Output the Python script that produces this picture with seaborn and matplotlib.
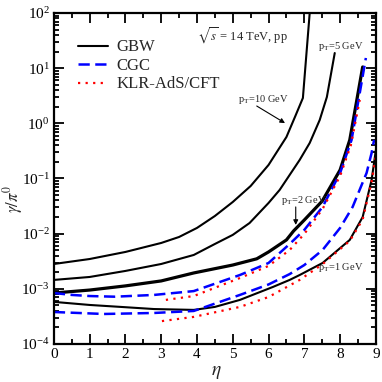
import matplotlib
matplotlib.use("Agg")
import matplotlib.pyplot as plt
import seaborn as sns
from matplotlib.ticker import MultipleLocator, LogLocator, NullFormatter

# GBW curves (solid black)
gbw_pt1_eta = [0, 1, 1.87, 2.8, 3.91, 4.5, 5.2, 6.12, 6.59, 6.87, 7.51, 8.27, 8.63, 8.88, 9.0]
gbw_pt1_val = [5.8e-4, 5.1e-4, 4.7e-4, 4.3e-4, 4.15e-4, 4.7e-4, 6.3e-4, 1.08e-3,
               1.45e-3, 1.78e-3, 2.94e-3, 7.7e-3, 2.0e-2, 9.4e-2, 0.33]
gbw_pt2_eta = [0, 1, 2, 3, 3.91, 5, 5.67, 6, 6.5, 6.7, 7, 7.5, 8, 8.27, 8.63]
gbw_pt2_val = [8.4e-4, 9.5e-4, 1.13e-3, 1.39e-3, 1.94e-3, 2.7e-3, 3.5e-3, 4.66e-3,
               7.7e-3, 1.12e-2, 1.77e-2, 3.9e-2, 0.143, 0.5, 10.5]
gbw_pt5_eta = [0, 1, 2, 3, 3.91, 4.5, 5, 5.47, 6, 6.31, 6.87, 7.15, 7.43, 7.63, 7.85]
gbw_pt5_val = [1.45e-3, 1.64e-3, 2.11e-3, 2.82e-3, 4.11e-3, 6.5e-3, 9.5e-3, 1.56e-2,
               3.6e-2, 6.2e-2, 0.217, 0.44, 1.15, 3.0, 18.8]
gbw_pt10_eta = [0, 1, 2, 3, 3.5, 4, 4.5, 5, 5.5, 6, 6.5, 6.75, 6.96, 7.15]
gbw_pt10_val = [2.82e-3, 3.47e-3, 4.66e-3, 6.78e-3, 8.71e-3, 1.27e-2, 2.09e-2,
                3.75e-2, 7.31e-2, 0.176, 0.565, 1.36, 2.88, 100.0]

# CGC curves (dashed blue)
cgc_pt1_eta = [0, 1.4, 2.8, 3.91, 5.2, 6, 6.59, 7, 7.51, 8, 8.35, 8.74, 8.88, 8.95]
cgc_pt1_val = [3.8e-4, 3.5e-4, 3.65e-4, 3.97e-4, 7.75e-4, 1.2e-3, 1.85e-3, 2.7e-3,
               5.06e-3, 1.27e-2, 3.05e-2, 0.126, 0.29, 0.5]
cgc_pt2_eta = [0, 0.5, 1, 1.7, 2.8, 3.91, 5.2, 6, 6.59, 7, 7.51, 8, 8.32, 8.72]
cgc_pt2_val = [8.4e-4, 7.75e-4, 7.4e-4, 7.2e-4, 7.75e-4, 9.1e-4, 1.78e-3, 2.94e-3,
               6.5e-3, 1.17e-2, 3.05e-2, 0.126, 0.5, 15.3]

# KLR-AdS/CFT curves (dotted red)
klr_pt1_eta = [3.02, 3.91, 5.2, 6, 6.87, 7.51, 8.27, 8.63, 8.88, 9.0]
klr_pt1_val = [2.6e-4, 3.1e-4, 4.7e-4, 7.1e-4, 1.45e-3, 2.8e-3, 7.4e-3, 1.8e-2,
               8.6e-2, 0.27]
klr_pt2_eta = [3.13, 3.91, 5.2, 6, 6.59, 7, 7.51, 8, 8.3, 8.55]
klr_pt2_val = [6.3e-4, 7.4e-4, 1.57e-3, 2.6e-3, 5.06e-3, 9.9e-3, 2.8e-2, 0.111,
               0.40, 2.65]

y_ticks = [1e-4, 1e-3, 1e-2, 1e-1, 1e0, 1e1, 1e2]

sns.set_style("ticks")
plt.rcParams["font.family"] = ["Liberation Serif", "DejaVu Serif"]
plt.rcParams["mathtext.fontset"] = "stix"

fig = plt.figure(figsize=(3.82, 3.82), dpi=100)
ax = fig.add_axes([0.141, 0.0995, 0.843, 0.8665])

black_kw = dict(color="black", linewidth=1.5)
blue_kw = dict(color="blue", linewidth=1.8, linestyle=(0, (4.5, 2.2)))
red_kw = dict(color="red", linewidth=1.6, linestyle=(0, (1, 2.4)))

sns.lineplot(x=gbw_pt1_eta, y=gbw_pt1_val, ax=ax, label="GBW", **black_kw)
sns.lineplot(x=gbw_pt2_eta, y=gbw_pt2_val, ax=ax, color="black", linewidth=2.3)
sns.lineplot(x=gbw_pt5_eta, y=gbw_pt5_val, ax=ax, **black_kw)
sns.lineplot(x=gbw_pt10_eta, y=gbw_pt10_val, ax=ax, **black_kw)
sns.lineplot(x=cgc_pt1_eta, y=cgc_pt1_val, ax=ax, label="CGC", **blue_kw)
sns.lineplot(x=cgc_pt2_eta, y=cgc_pt2_val, ax=ax, **blue_kw)
sns.lineplot(x=klr_pt1_eta, y=klr_pt1_val, ax=ax, label="KLR-AdS/CFT", **red_kw)
sns.lineplot(x=klr_pt2_eta, y=klr_pt2_val, ax=ax, **red_kw)

ax.set_yscale("log")
ax.set_xlim(0, 9)
ax.set_ylim(1e-4, 1e2)
ax.set_xticks(range(10))
ax.xaxis.set_minor_locator(MultipleLocator(0.5))
ax.xaxis.set_minor_formatter(NullFormatter())
ax.set_yticks(y_ticks)
ax.yaxis.set_minor_locator(LogLocator(base=10, subs=range(2, 10), numticks=20))
ax.yaxis.set_minor_formatter(NullFormatter())
ax.set_ylim(1e-4, 1e2)
ax.tick_params(which="both", direction="in", top=True, right=True, width=1.3,
               labelsize=11, colors="black")
ax.tick_params(which="major", length=7, pad=3)
ax.tick_params(which="minor", length=3.5)
for s in ax.spines.values():
    s.set_linewidth(1.6)
    s.set_color("black")

ax.set_xlabel(r"$\eta$", fontsize=14)
ax.set_ylabel(r"$\gamma/\pi^0$", fontsize=12)
ax.xaxis.set_label_coords(0.506, -0.06)
ax.yaxis.set_label_coords(-0.09, 0.44)

ax.legend(loc="upper left", bbox_to_anchor=(0.075, 0.92), frameon=False,
          fontsize=12, handlelength=1.8, handletextpad=0.5, labelspacing=0.15,
          borderpad=0, borderaxespad=0)

ax.text(4.0, 38, r"$\sqrt{s}$ = 14 TeV, pp", fontsize=9, va="center", ha="left")
ax.text(7.38, 25, r"p$_{\rm T}$=5 GeV", fontsize=7.5, va="center", ha="left")
ax.text(5.14, 2.65, r"p$_{\rm T}$=10 GeV", fontsize=7.5, va="center", ha="left")
ax.text(6.34, 0.0407, r"p$_{\rm T}$=2 GeV", fontsize=7.5, va="center", ha="left")
ax.text(7.38, 2.39e-3, r"p$_{\rm T}$=1 GeV", fontsize=7.5, va="center", ha="left")
ax.annotate("", xy=(6.46, 1.01), xytext=(5.67, 2.06),
            arrowprops=dict(arrowstyle="-|>", color="black", lw=0.8,
                            mutation_scale=7, shrinkA=0, shrinkB=0))
ax.annotate("", xy=(6.76, 0.0144), xytext=(6.76, 0.0305),
            arrowprops=dict(arrowstyle="-|>", color="black", lw=0.8,
                            mutation_scale=7, shrinkA=0, shrinkB=0))

fig.savefig("out.png", dpi=100)
